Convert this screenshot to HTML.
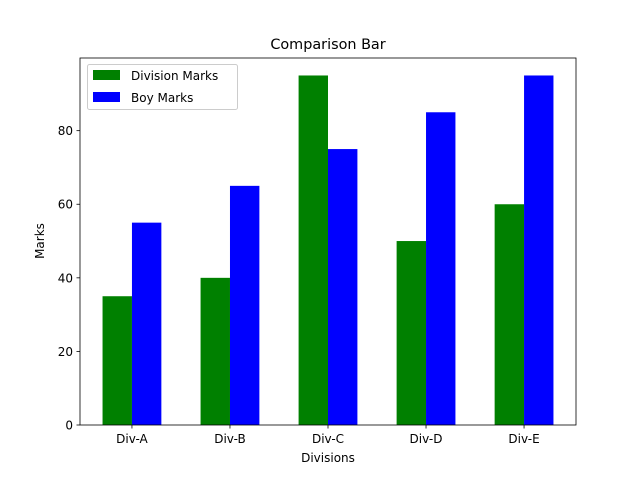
<!DOCTYPE html>
<html><head><meta charset="utf-8"><style>
body{margin:0;background:#fff;}
svg text{font-family:"DejaVu Sans","Liberation Sans",sans-serif;fill:#000;}
</style></head><body>
<svg id="chart" width="640" height="478" viewBox="0 0 640 478">
<rect width="640" height="478" fill="#fff"/>
<g id="bars"></g>
<g id="axes"></g>
</svg>
<script>
const categories=["Div-A","Div-B","Div-C","Div-D","Div-E"];
const divisionMarks=[35,40,95,50,60];
const boyMarks=[55,65,75,85,95];
const yTicks=[0,20,40,60,80];
const L=80,R=576,T=58,B=425;
const ymax=Math.max(...divisionMarks,...boyMarks)*1.05;
const xmin=-0.53,xmax=categories.length-1+0.53;
const xs=v=>L+(v-xmin)/(xmax-xmin)*(R-L);
const ys=v=>B-v/ymax*(B-T);
const NS="http://www.w3.org/2000/svg";
function mk(tag,attrs,parent){const e=document.createElementNS(NS,tag);for(const k in attrs)e.setAttribute(k,attrs[k]);parent.appendChild(e);return e;}
const bars=document.getElementById('bars'),ax=document.getElementById('axes');
const w=0.3;
categories.forEach((c,i)=>{
  let r=mk('rect',{x:xs(i-w),y:ys(divisionMarks[i]),width:xs(i)-xs(i-w),height:B-ys(divisionMarks[i]),fill:'#008000'},bars);
  
  
  let r2=mk('rect',{x:xs(i),y:ys(boyMarks[i]),width:xs(i+w)-xs(i),height:B-ys(boyMarks[i]),fill:'#0000ff'},bars);
  
  
  mk('line',{x1:xs(i),x2:xs(i),y1:B,y2:B+3.5,stroke:'#000','stroke-width':0.8},ax);
  let t=mk('text',{x:xs(i),y:B+18,'text-anchor':'middle','font-size':12},ax);t.textContent=c;
  
  
});
yTicks.forEach(v=>{
  mk('line',{x1:L-3.5,x2:L,y1:ys(v),y2:ys(v),stroke:'#000','stroke-width':0.8},ax);
  let t=mk('text',{x:L-7,y:ys(v)+4.5,'text-anchor':'end','font-size':12},ax);t.textContent=v;
  
  
});
mk('rect',{x:L,y:T,width:R-L,height:B-T,fill:'none',stroke:'#000','stroke-width':0.8},ax);
</script>
<svg width="640" height="478" style="position:absolute;left:0;top:0">
<text x="328" y="49" text-anchor="middle" font-size="14.4">Comparison Bar</text>
<text x="328" y="462" text-anchor="middle" font-size="12">Divisions</text>
<text x="44" y="241" text-anchor="middle" font-size="12" transform="rotate(-90 44 241)">Marks</text>
<g>
<rect x="87.5" y="64.5" width="150" height="45" rx="2" fill="#fff" fill-opacity="0.8" stroke="#ccc"/>
<rect x="93" y="70" width="27" height="10" fill="#008000"/>
<text x="131" y="80" font-size="12">Division Marks</text>
<rect x="93" y="92" width="27" height="10" fill="#0000ff"/>
<text x="131" y="102" font-size="12">Boy Marks</text>
</g>
</svg>
</body></html>
